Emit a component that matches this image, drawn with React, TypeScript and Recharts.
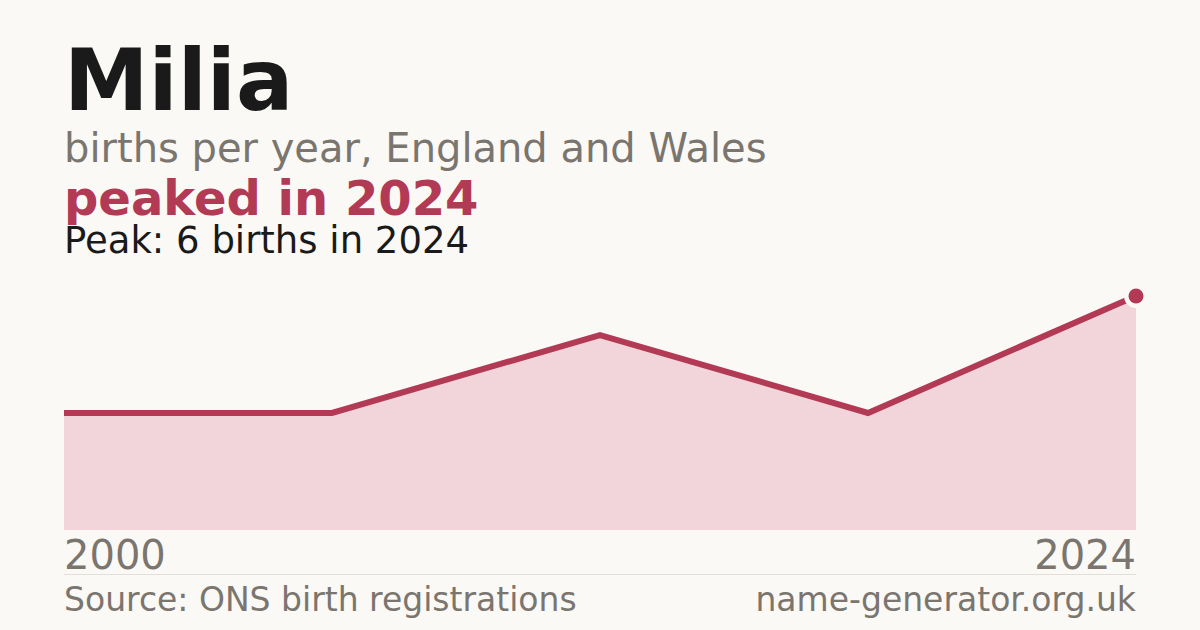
import { Area, AreaChart, ReferenceDot, XAxis, YAxis } from 'recharts';

// Milia: births per year, England and Wales (ONS)
const years = [2000, 2006, 2012, 2018, 2024];
const births = [3, 3, 5, 3, 6];
const yearTicks = [2000, 2024];

const PEAK_YEAR = 2024;
const PEAK_VALUE = 6;

const data = years.map((year, i) => ({ year, births: births[i] }));

const BG = '#faf9f5';
const ACCENT = '#b23a55';
const FILL = '#f1d5da';
const MUTED = '#7a756f';
const INK = '#1a1a1a';
const FONT = '"DejaVu Sans", sans-serif';

function YearTick(props: any) {
  const { x, y, payload } = props;
  const isFirst = payload.value === yearTicks[0];
  return (
    <text
      x={x}
      y={y + 31}
      textAnchor={isFirst ? 'start' : 'end'}
      fill={MUTED}
      fontSize={40}
      fontFamily={FONT}
    >
      {payload.value}
    </text>
  );
}

function PeakDot(props: any) {
  const { cx, cy } = props;
  return (
    <g>
      <circle cx={cx} cy={cy} r={12} fill={BG} />
      <circle cx={cx} cy={cy} r={7.5} fill={ACCENT} />
    </g>
  );
}

const textBase = { position: 'absolute' as const, left: 64, margin: 0, whiteSpace: 'nowrap' as const, fontFamily: FONT, lineHeight: 1 };

export default function App() {
  return (
    <div style={{ position: 'absolute', left: 0, top: 0, width: 1200, height: 630, background: BG, overflow: 'hidden' }}>
      <AreaChart
        width={1200}
        height={630}
        data={data}
        margin={{ top: 296, right: 64, left: 64, bottom: 0 }}
        style={{ position: 'absolute', left: 0, top: 0 }}
      >
        <XAxis
          dataKey="year"
          type="number"
          domain={[2000, 2024]}
          ticks={yearTicks}
          tick={<YearTick />}
          tickLine={false}
          axisLine={false}
          height={100}
        />
        <YAxis hide domain={[0, PEAK_VALUE]} width={0} />
        <Area
          type="linear"
          dataKey="births"
          stroke={ACCENT}
          strokeWidth={6}
          fill={FILL}
          fillOpacity={1}
          dot={false}
          activeDot={false}
          isAnimationActive={false}
        />
        <ReferenceDot x={PEAK_YEAR} y={PEAK_VALUE} shape={<PeakDot />} ifOverflow="visible" />
      </AreaChart>

      <div style={{ ...textBase, top: 38, fontSize: 85, fontWeight: 700, color: INK }}>Milia</div>
      <div style={{ ...textBase, top: 128, fontSize: 40, color: MUTED }}>births per year, England and Wales</div>
      <div style={{ ...textBase, top: 174, fontSize: 48, fontWeight: 700, color: ACCENT }}>peaked in 2024</div>
      <div style={{ ...textBase, top: 222, fontSize: 37, color: INK }}>Peak: 6 births in 2024</div>

      <div style={{ position: 'absolute', left: 64, width: 1072, top: 574, height: 1, background: '#e2dfda' }} />
      <div style={{ ...textBase, top: 583, fontSize: 33, color: MUTED }}>Source: ONS birth registrations</div>
      <div style={{ ...textBase, left: 'auto', right: 64, top: 583, fontSize: 33, color: MUTED }}>name-generator.org.uk</div>
    </div>
  );
}
